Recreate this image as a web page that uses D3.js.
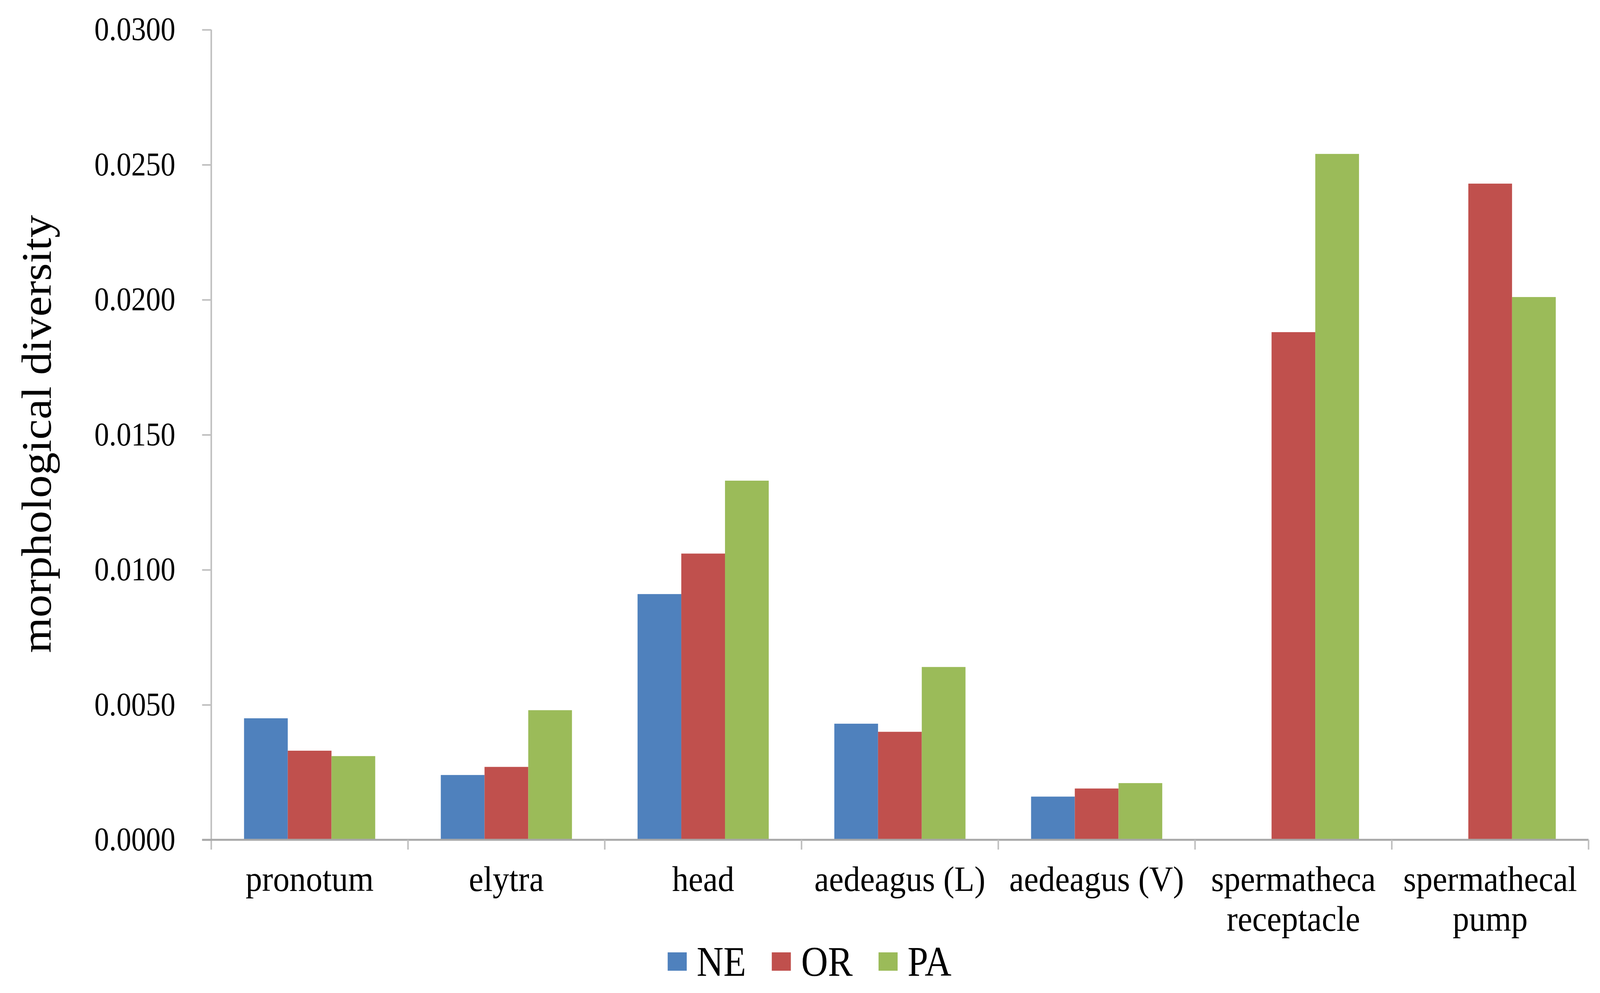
<!DOCTYPE html>
<html>
<head>
<meta charset="utf-8">
<script src="https://cdn.jsdelivr.net/npm/d3@7"></script>
<style>
  html, body { margin: 0; padding: 0; width: 100%; height: 100%; overflow: hidden; background: #ffffff; }
  svg { display: block; width: 100vw; height: 100vh; }
  text { font-family: "Liberation Serif", "Times New Roman", serif; fill: #000; }
</style>
</head>
<body>
<svg id="chart" viewBox="0 0 4196 2541" preserveAspectRatio="none"></svg>
<script>
// ---- data ----
const categories = ["pronotum", "elytra", "head", "aedeagus (L)", "aedeagus (V)", "spermatheca receptacle", "spermathecal pump"];
const categoryLines = [["pronotum"], ["elytra"], ["head"], ["aedeagus (L)"], ["aedeagus (V)"], ["spermatheca", "receptacle"], ["spermathecal", "pump"]];
const seriesNames = ["NE", "OR", "PA"];
const valuesNE = [0.0045, 0.0024, 0.0091, 0.0043, 0.0016, null, null];
const valuesOR = [0.0033, 0.0027, 0.0106, 0.0040, 0.0019, 0.0188, 0.0243];
const valuesPA = [0.0031, 0.0048, 0.0133, 0.0064, 0.0021, 0.0254, 0.0201];
const yTicks = [0, 0.005, 0.010, 0.015, 0.020, 0.025, 0.030];
const colors = ["#4F81BD", "#C0504D", "#9BBB59"];
const yTitle = "morphological diversity";

// ---- layout ----
const W = 4196, H = 2541;
const plotLeft = 554, plotRight = 4166, plotTop = 76, plotBottom = 2149;
const axisColor = "#bfbfbf";
const baseColor = "#a8a8a8";

const svg = d3.select("#chart");
svg.append("rect").attr("width", W).attr("height", H).attr("fill", "#fff");

const y = d3.scaleLinear().domain([0, 0.03]).range([plotBottom, plotTop]);
const x0 = d3.scaleBand().domain(categories).range([plotLeft, plotRight]).paddingInner(0).paddingOuter(0);
const bw = x0.bandwidth();
const x1 = d3.scaleBand().domain(seriesNames).range([bw / 6, bw * 5 / 6]).padding(0);
const color = d3.scaleOrdinal().domain(seriesNames).range(colors);

const seriesValues = { NE: valuesNE, OR: valuesOR, PA: valuesPA };

// bars
const groups = svg.append("g").selectAll("g")
  .data(categories)
  .join("g")
  .attr("transform", d => `translate(${x0(d)},0)`);

groups.selectAll("rect")
  .data((c, i) => seriesNames.map(s => ({ s, v: seriesValues[s][i] })).filter(d => d.v != null))
  .join("rect")
  .attr("x", d => x1(d.s))
  .attr("width", x1.bandwidth())
  .attr("y", d => y(d.v))
  .attr("height", d => y(0) - y(d.v))
  .attr("fill", d => color(d.s));

// y axis ticks (drawn with d3 axis, labels condensed horizontally)
const yAxis = d3.axisLeft(y)
  .tickValues(yTicks)
  .tickFormat(d3.format(".4f"))
  .tickSize(24)
  .tickPadding(70)
  .tickSizeOuter(0);

const gy = svg.append("g").attr("transform", `translate(${plotLeft},0)`).call(yAxis);
gy.select(".domain").remove();
gy.selectAll(".tick line").attr("stroke", axisColor).attr("stroke-width", 4);
const tickSx = 0.92;
gy.selectAll(".tick text")
  .attr("font-size", 84)
  .attr("font-family", "Liberation Serif")
  .attr("fill", "#000")
  .attr("x", -(24 + 70) / tickSx)
  .attr("transform", `scale(${tickSx},1)`);

// y axis line (extends down as the first category tick)
svg.append("line")
  .attr("x1", plotLeft).attr("x2", plotLeft)
  .attr("y1", y(0.03)).attr("y2", plotBottom + 25)
  .attr("stroke", axisColor).attr("stroke-width", 4);

// x axis baseline
svg.append("line")
  .attr("x1", plotLeft - 24).attr("x2", plotRight)
  .attr("y1", y(0)).attr("y2", y(0))
  .attr("stroke", baseColor).attr("stroke-width", 5);

// x boundary ticks
const boundaries = categories.map(c => x0(c)).concat([x0(categories[categories.length - 1]) + bw]);
svg.append("g").selectAll("line")
  .data(boundaries.slice(1))
  .join("line")
  .attr("x1", d => d).attr("x2", d => d)
  .attr("y1", y(0)).attr("y2", y(0) + 25)
  .attr("stroke", axisColor).attr("stroke-width", 4);

// category labels (slightly condensed)
const catSx = 0.96;
const labels = svg.append("g").attr("transform", `scale(${catSx},1)`).selectAll("text")
  .data(categories)
  .join("text")
  .attr("x", d => (x0(d) + bw / 2) / catSx)
  .attr("y", 2280)
  .attr("text-anchor", "middle")
  .attr("font-size", 90);
labels.each(function (d, i) {
  const t = d3.select(this);
  categoryLines[i].forEach((line, j) => {
    t.append("tspan")
      .attr("x", (x0(d) + bw / 2) / catSx)
      .attr("dy", j === 0 ? 0 : 102)
      .text(line);
  });
});

// y title
svg.append("text")
  .attr("transform", `translate(133, ${(plotTop + plotBottom) / 2 - 2}) rotate(-90) scale(1,0.95)`)
  .attr("text-anchor", "middle")
  .attr("font-size", 117)
  .text(yTitle);

// legend
const legSx = 0.9;
const legendSquareX = [1751, 2024, 2304];
const legendTextX = [1827, 2101, 2380];
const legend = svg.append("g");
legend.selectAll("rect")
  .data(seriesNames)
  .join("rect")
  .attr("x", (d, i) => legendSquareX[i])
  .attr("y", 2437)
  .attr("width", 50)
  .attr("height", 47)
  .attr("fill", d => color(d));
legend.append("g").attr("transform", `scale(${legSx},1)`).selectAll("text")
  .data(seriesNames)
  .join("text")
  .attr("x", (d, i) => legendTextX[i] / legSx)
  .attr("y", 2497)
  .attr("font-size", 108)
  .text(d => d);
</script>
</body>
</html>
